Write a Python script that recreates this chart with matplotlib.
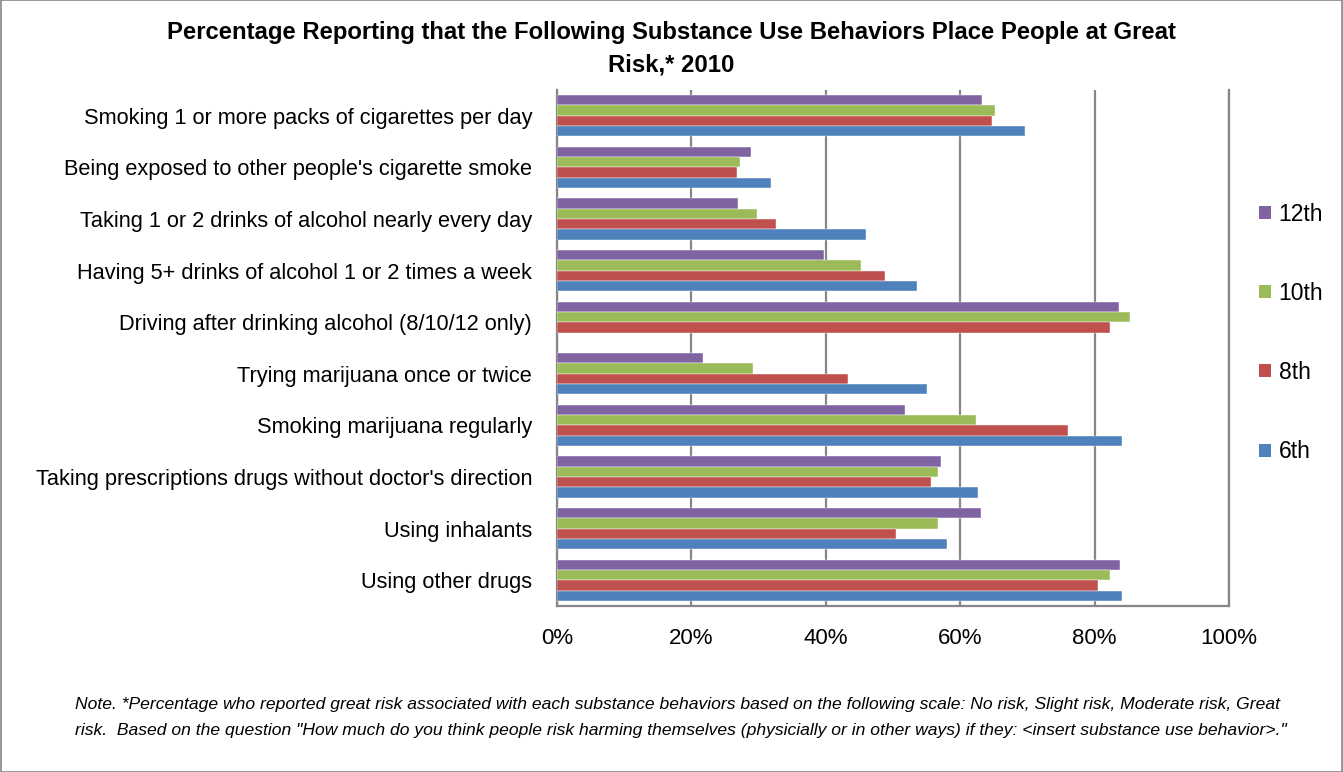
import numpy as np
import matplotlib
matplotlib.use("Agg")
import matplotlib.pyplot as plt
from matplotlib.patches import Rectangle, Patch

plt.rcParams['font.family'] = ['Liberation Sans', 'DejaVu Sans']

categories = [
    "Smoking 1 or more packs of cigarettes per day",
    "Being exposed to other people's cigarette smoke",
    "Taking 1 or 2 drinks of alcohol nearly every day",
    "Having 5+ drinks of alcohol 1 or 2 times a week",
    "Driving after drinking alcohol (8/10/12 only)",
    "Trying marijuana once or twice",
    "Smoking marijuana regularly",
    "Taking prescriptions drugs without doctor's direction",
    "Using inhalants",
    "Using other drugs",
]
grade12 = [63.3, 28.8, 26.9, 39.7, 83.6, 21.8, 51.8, 57.2, 63.1, 83.8]
grade10 = [65.2, 27.3, 29.7, 45.3, 85.2, 29.2, 62.3, 56.7, 56.7, 82.3]
grade8 = [64.7, 26.8, 32.6, 48.8, 82.3, 43.3, 76.1, 55.7, 50.5, 80.5]
grade6 = [69.6, 31.9, 46.0, 53.6, np.nan, 55.0, 84.1, 62.7, 58.1, 84.1]
series_labels = ["12th", "10th", "8th", "6th"]
colors = ["#8064A2", "#9BBB59", "#C0504D", "#4F81BD"]
xticks = [0, 20, 40, 60, 80, 100]

fig = plt.figure(figsize=(13.43, 7.72), dpi=100)
ax = fig.add_axes([557/1343, 1-606/772, (1229-557)/1343, (606-90)/772])

h = 0.2
y = np.arange(len(categories))
series = [grade12, grade10, grade8, grade6]
handles = []
for k, (vals, c, lab) in enumerate(zip(series, colors, series_labels)):
    off = (k - 1.5) * h
    ax.barh(y + off, vals, height=h, color=c, edgecolor='white', linewidth=0.3, zorder=3)
    handles.append(Patch(facecolor=c, label=lab))

ax.set_ylim(len(categories) - 0.5, -0.5)
ax.set_xlim(0, 100)
ax.set_xticks(xticks)
ax.set_xticklabels([f"{v}%" for v in xticks], fontsize=16)
ax.set_yticks(y)
ax.set_yticklabels(categories, fontsize=15.7)
ax.tick_params(axis='both', length=0)
ax.tick_params(axis='x', pad=16)
ax.tick_params(axis='y', pad=18)
ax.grid(axis='x', color='#868686', linewidth=1.6, zorder=0)
ax.axvline(xticks[-1], color='#868686', linewidth=1.6, zorder=0, clip_on=False)
for s in ['top', 'right']:
    ax.spines[s].set_visible(False)
for s in ['left', 'bottom']:
    ax.spines[s].set_color('#868686')
    ax.spines[s].set_linewidth(1.6)

fig.text(0.5, 1-32/772, "Percentage Reporting that the Following Substance Use Behaviors Place People at Great",
         ha='center', va='center', fontsize=17.2, fontweight='bold')
fig.text(0.5, 1-65/772, "Risk,* 2010", ha='center', va='center', fontsize=17.2, fontweight='bold')

fig.legend(handles=handles, loc='center left', bbox_to_anchor=(1250/1343, 1-333/772),
           frameon=False, fontsize=16.5, labelspacing=2.45, handlelength=0.5, handleheight=0.5,
           handletextpad=0.35, borderaxespad=0)

fig.text(75/1343, 1-705/772,
         "Note. *Percentage who reported great risk associated with each substance behaviors based on the following scale: No risk, Slight risk, Moderate risk, Great",
         ha='left', va='center', fontsize=12.6, style='italic')
fig.text(75/1343, 1-731/772,
         "risk.  Based on the question \"How much do you think people risk harming themselves (physicially or in other ways) if they: <insert substance use behavior>.\"",
         ha='left', va='center', fontsize=12.6, style='italic')

fig.patches.append(Rectangle((0.0005, 0.0005), 0.999, 0.999, transform=fig.transFigure,
                             fill=False, edgecolor='#868686', linewidth=1.2))

fig.savefig("out.png", dpi=100)
